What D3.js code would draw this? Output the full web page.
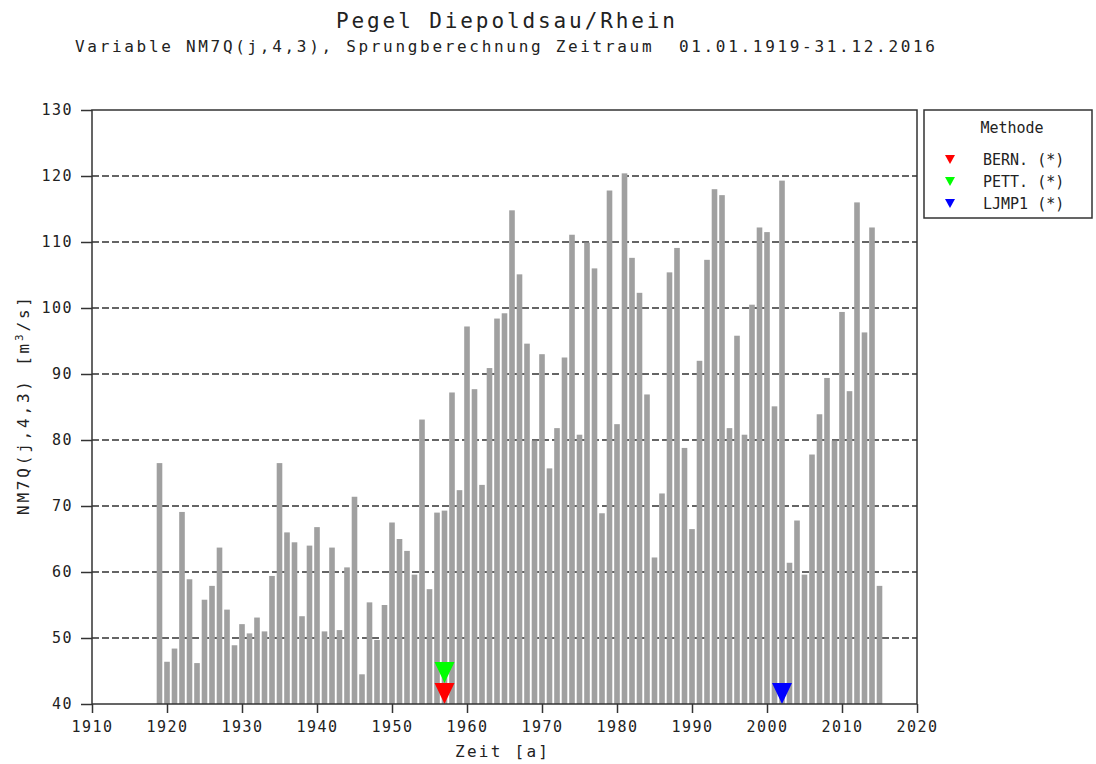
<!DOCTYPE html>
<html>
<head>
<meta charset="utf-8">
<script src="https://cdn.jsdelivr.net/npm/d3@7"></script>
<style>
  body { margin: 0; background: #fff; }
  text { font-family: "DejaVu Sans Mono", monospace; fill: #222; white-space: pre; }
</style>
</head>
<body>
<div id="chart"></div>
<script>
// years and NM7Q values (m3/s)
var years = d3.range(1919, 2016);
var values = [
    76.5, 46.4, 48.4, 69.1, 58.9, 46.2, 55.8, 57.9, 63.7, 54.3,
    48.9, 52.1, 50.7, 53.1, 51.0, 59.4, 76.5, 66.0, 64.5, 53.3,
    64.0, 66.8, 51.0, 63.7, 51.2, 60.7, 71.4, 44.5, 55.4, 49.7,
    55.0, 67.5, 65.0, 63.2, 59.6, 83.1, 57.4, 69.0, 69.3, 87.2,
    72.4, 97.2, 87.7, 73.2, 90.9, 98.4, 99.2, 114.8, 105.1, 94.6,
    79.9, 93.0, 75.7, 81.8, 92.5, 111.1, 80.8, 109.9, 106.0, 68.9,
    117.8, 82.4, 120.4, 107.6, 102.3, 86.9, 62.2, 71.9, 105.4, 109.1,
    78.8, 66.5, 92.0, 107.3, 118.0, 117.1, 81.8, 95.8, 80.8, 100.5,
    112.2, 111.5, 85.1, 119.3, 61.4, 67.8, 59.6, 77.8, 83.9, 89.4,
    79.9, 99.4, 87.4, 116.0, 96.3, 112.2, 57.9
];

// jump detection results
var methods = ["BERN. (*)", "PETT. (*)", "LJMP1 (*)"];
var methodColors = ["#ff0000", "#00ff00", "#0000ff"];
var jumpYears = [1957, 1957, 2002];

var xTicks = d3.range(1910, 2021, 10);
var yTicks = d3.range(40, 131, 10);

var title = "Pegel Diepoldsau/Rhein";
var subtitle = "Variable NM7Q(j,4,3), Sprungberechnung Zeitraum  01.01.1919-31.12.2016";

var W = 1096, H = 764;
var margin = {top: 110, right: 179, bottom: 60, left: 92};
var width = 917 - margin.left,
    height = 704 - margin.top;

var svg = d3.select("#chart").append("svg")
    .attr("width", W)
    .attr("height", H);

var x = d3.scaleLinear().domain([1910, 2020]).range([0, width]);
var y = d3.scaleLinear().domain([40, 130]).range([height, 0]);

var g = svg.append("g")
    .attr("transform", "translate(" + margin.left + "," + margin.top + ")");

// dashed grid lines
g.selectAll(".grid")
    .data(yTicks.filter(function(d) { return d > 40 && d < 130; }))
    .enter().append("line")
    .attr("x1", 0).attr("x2", width)
    .attr("y1", function(d) { return y(d); })
    .attr("y2", function(d) { return y(d); })
    .attr("stroke", "#333")
    .attr("stroke-width", 1.3)
    .attr("stroke-dasharray", "7,3");

// bars
var bw = 5.6;
g.selectAll(".bar")
    .data(values)
    .enter().append("rect")
    .attr("x", function(d, i) { return x(years[i]) - bw / 2; })
    .attr("y", function(d) { return y(d); })
    .attr("width", bw)
    .attr("height", function(d) { return height - y(d); })
    .attr("fill", "#a0a0a0");

// jump markers, stacked when in same year
var triW = 20, triH = 21;
var seen = {};
jumpYears.forEach(function(yr, i) {
    var lvl = seen[yr] || 0;
    seen[yr] = lvl + 1;
    var cx = x(yr), tip = y(40) - lvl * triH;
    g.append("path")
        .attr("d", "M" + (cx - triW / 2) + "," + (tip - triH) + "L" + (cx + triW / 2) + "," + (tip - triH) + "L" + cx + "," + tip + "Z")
        .attr("fill", methodColors[i]);
});

// axes
var yAxis = g.append("g")
    .call(d3.axisLeft(y).tickValues(yTicks).tickSize(11).tickPadding(8));
var xAxis = g.append("g")
    .attr("transform", "translate(0," + height + ")")
    .call(d3.axisBottom(x).tickValues(xTicks).tickFormat(d3.format("d")).tickSize(9).tickPadding(8));
[xAxis, yAxis].forEach(function(a) {
    a.select(".domain").remove();
    a.selectAll("line").attr("stroke", "#333").attr("stroke-width", 1.5);
    a.selectAll("text")
        .style("font-family", "DejaVu Sans Mono, monospace")
        .style("font-size", "15px")
        .style("letter-spacing", "1.5px")
        .attr("fill", "#222");
});

// frame
g.append("rect")
    .attr("width", width).attr("height", height)
    .attr("fill", "none")
    .attr("stroke", "#333")
    .attr("stroke-width", 1.5);

// titles
svg.append("text")
    .attr("x", 336).attr("y", 28)
    .attr("textLength", 339).attr("lengthAdjust", "spacing")
    .style("font-size", "21px")
    .text(title);
svg.append("text")
    .attr("x", 75).attr("y", 52)
    .attr("textLength", 860).attr("lengthAdjust", "spacing")
    .style("font-size", "16px")
    .text(subtitle);

svg.append("text")
    .attr("x", 455).attr("y", 757)
    .attr("textLength", 93).attr("lengthAdjust", "spacing")
    .style("font-size", "16px")
    .text("Zeit [a]");

var yl = svg.append("text")
    .attr("transform", "translate(29,515) rotate(-90)")
    .attr("textLength", 218).attr("lengthAdjust", "spacing")
    .style("font-size", "16px");
yl.append("tspan").text("NM7Q(j,4,3) [m");
yl.append("tspan").attr("dy", -6).style("font-size", "11px").text("3");
yl.append("tspan").attr("dy", 6).text("/s]");

// legend
var lg = svg.append("g");
lg.append("rect")
    .attr("x", 924).attr("y", 110)
    .attr("width", 168).attr("height", 108)
    .attr("fill", "#fff")
    .attr("stroke", "#333")
    .attr("stroke-width", 1.5);
lg.append("text")
    .attr("x", 1012).attr("y", 133)
    .attr("text-anchor", "middle")
    .style("font-size", "15px")
    .text("Methode");
methods.forEach(function(m, i) {
    var ry = 160 + i * 22;
    lg.append("path")
        .attr("d", "M945," + (ry - 5) + "L955," + (ry - 5) + "L950," + (ry + 4) + "Z")
        .attr("fill", methodColors[i]);
    lg.append("text")
        .attr("x", 983).attr("y", ry + 5)
        .style("font-size", "15px")
        .text(m);
});
</script>
</body>
</html>
